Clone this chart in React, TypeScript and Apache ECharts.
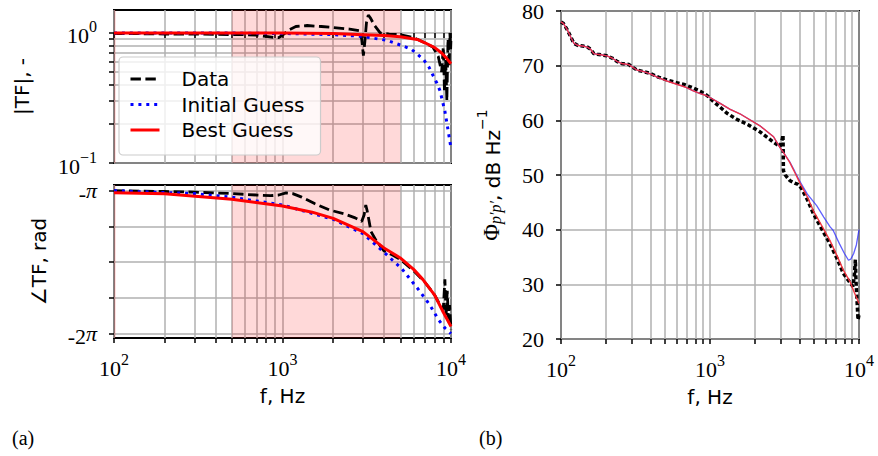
import React, { useEffect, useRef } from 'react';
import * as echarts from 'echarts';

// ---------- data ----------
// Panel (a) top: |TF|
const magDataF = [100,150,200,300,400,500,600,700,800,900,950,1000,1100,1200,1400,1700,2000,2500,2850,2950,3020,3080,3150,3230,3330,3500,3800,4300,5000,6000,7000,7800,8400,8800,9000,9150,9300,9450,9600,9750,9850,9950,10000];
const magData = [0.99,0.985,0.98,0.98,0.975,0.97,0.97,0.96,0.94,0.92,0.92,0.96,1.06,1.12,1.14,1.12,1.1,1.07,1.04,0.9,0.67,0.85,1.2,1.37,1.3,1.15,1.0,0.98,0.97,0.92,0.84,0.78,0.66,0.5,0.78,0.35,0.62,0.3,0.9,0.55,1.0,0.75,0.9];
const magInitF = [100,500,1000,2000,3000,3200,4200,5100,5800,6300,6900,7400,7800,8250,8600,9200,9600,10000];
const magInit = [1.0,0.998,0.99,0.97,0.94,0.925,0.875,0.8,0.75,0.69,0.62,0.545,0.475,0.41,0.36,0.25,0.18,0.13];
const magBestF = [100,500,1000,2000,3000,4000,5000,6300,7000,8000,8800,9400,10000];
const magBest = [1.0,1.0,1.0,0.99,0.97,0.955,0.935,0.89,0.84,0.77,0.7,0.64,0.58];

// Panel (a) bottom: phase, in units of pi
const phaseDataF = [100,200,300,500,700,850,950,1050,1150,1300,1550,1900,2300,2700,2950,3050,3120,3180,3250,3350,3600,4000,4500,5000,6000,7000,8000,8700,9000,9200,9350,9500,9650,9800,10000];
const phaseData = [-1.0,-1.005,-1.01,-1.02,-1.03,-1.035,-1.03,-1.015,-1.02,-1.045,-1.09,-1.135,-1.16,-1.19,-1.215,-1.17,-1.1,-1.14,-1.2,-1.285,-1.35,-1.42,-1.45,-1.48,-1.56,-1.64,-1.73,-1.81,-1.83,-1.62,-1.88,-1.7,-1.9,-1.8,-1.97];
const phaseInitF = [100,300,500,1000,2000,3000,4000,5100,6400,7500,8400,9200,10000];
const phaseInit = [-1.0,-1.02,-1.045,-1.1,-1.2,-1.3,-1.43,-1.545,-1.69,-1.8,-1.9,-1.96,-2.0];
const phaseBestF = [100,200,500,1000,1500,2000,3000,4000,5000,6000,6800,8000,9000,10000];
const phaseBest = [-1.014,-1.022,-1.06,-1.107,-1.15,-1.193,-1.286,-1.4,-1.47,-1.55,-1.62,-1.73,-1.85,-1.95];

// Panel (b): PSD, dB/Hz
const psdDataF = [100,104,110,116,122,130,140,150,158,166,175,185,203,220,237,255,270,285,323,360,397,450,513,598,680,773,860,951,1050,1170,1300,1510,1800,2163,2670,2950,3050,3090,3110,3200,3430,3700,3900,4100,4500,4930,5500,6390,7100,7850,8700,9100,9300,9450,9550,9700,9850,10000];
const psdData = [78.0,77.7,76.6,75.3,74.1,73.7,73.6,73.4,73.0,72.2,72.1,72.0,71.8,71.4,70.8,70.4,70.3,70.2,69.2,68.9,68.6,67.9,67.4,66.9,66.5,65.9,65.3,64.6,63.5,62.4,61.3,60.2,59.2,57.9,56.0,55.2,56.5,57.3,50.8,50.0,49.0,48.5,48.3,47.6,45.5,43.0,40.6,37.4,34.8,32.0,30.3,29.6,31.5,34.5,30.5,27.0,23.5,24.5];
const psdInitF = [100,104,110,116,122,130,140,150,158,166,175,185,203,220,237,255,270,285,323,360,397,450,513,598,680,773,860,951,1170,1366,1586,2163,2670,2950,3100,3430,3700,4000,4500,5200,5800,6400,6700,7400,8000,8500,8800,9200,9600,10000];
const psdInit = [78.0,77.7,76.6,75.3,74.1,73.7,73.6,73.4,73.0,72.2,72.1,72.0,71.8,71.4,70.8,70.4,70.3,70.2,69.2,68.9,68.5,67.8,67.2,66.6,66.1,65.4,64.9,64.5,63.1,62.0,61.2,59.0,57.0,55.0,54.2,52.4,50.7,48.9,46.5,44.4,42.3,40.5,39.9,37.4,35.6,34.4,34.6,35.6,37.2,40.0];
const psdBestF = [100,104,110,116,122,130,140,150,158,166,175,185,203,220,237,255,270,285,323,360,397,450,513,598,680,773,860,951,1170,1366,1586,2163,2670,2950,3100,3430,3700,4000,4500,4930,5500,6390,7100,7850,8700,9300,10000];
const psdBest = [78.0,77.7,76.6,75.3,74.1,73.7,73.6,73.4,73.0,72.2,72.1,72.0,71.8,71.4,70.8,70.4,70.3,70.2,69.2,68.9,68.5,67.8,67.2,66.6,66.1,65.4,64.9,64.5,63.1,62.0,61.2,59.0,57.0,55.0,54.2,52.3,50.5,48.6,46.0,43.5,41.2,38.0,35.3,32.6,30.5,28.5,26.5];

// ticks
const freqTicks = [100,200,300,400,500,600,700,800,900,1000,2000,3000,4000,5000,6000,7000,8000,9000,10000];
const freqLabelTicks = [100,1000,10000];
const magTicks = [0.1,0.2,0.3,0.4,0.5,0.6,0.7,0.8,0.9,1.0];
const magLabelTicks = [0.1,1];
const phaseTicks = [-2,-1.75,-1.5,-1.25,-1];
const phaseLabelTicks = [-2,-1];
const shadeBands = [[500,5000],[100,102.5]];
const legendNames = ['Data','Initial Guess','Best Guess'];

const SERIF = '"Liberation Serif", "DejaVu Serif", serif';
const SANS = '"DejaVu Sans", "Noto Sans", sans-serif';
const lg = Math.log10;
const toPts = (f: number[], v: number[], fy: (y: number) => number = (y) => y) =>
  f.map((x, i) => [lg(x), fy(v[i])]);

const richTick = {
  b: { fontFamily: SERIF, fontSize: 22, color: '#000', lineHeight: 28, verticalAlign: 'bottom' },
  s: { fontFamily: SERIF, fontSize: 16, color: '#000', lineHeight: 16, verticalAlign: 'top' },
  pi: { fontFamily: SERIF, fontStyle: 'italic', fontSize: 22, color: '#000', lineHeight: 28 },
};

const gridStyle = { show: true, borderColor: '#000', borderWidth: 2, backgroundColor: 'transparent' };
const tickStyle = { show: true, length: 5, lineStyle: { color: '#000', width: 1.5 } };
const splitStyle = { show: true, lineStyle: { color: '#b0b0b0', width: 1.5 } };

export default function App() {
  const ref = useRef<HTMLDivElement>(null);
  useEffect(() => {
    if (!ref.current) return;
    const chart = echarts.init(ref.current, null, { renderer: 'svg' });
    const xTickVals = freqTicks.map(lg);
    const xLabelVals = freqLabelTicks.map(lg);
    const xAxes = [0, 1, 2].map((i) => ({
      gridIndex: i,
      type: 'value',
      min: 2,
      max: 4,
      axisLine: { show: false },
      axisTick: { ...tickStyle, customValues: xTickVals },
      splitLine: splitStyle,
      axisLabel: {
        show: i > 0,
        customValues: xLabelVals,
        margin: 13,
        formatter: (v: number) => `{b|10}{s|${Math.round(v)}}`,
        rich: richTick,
      },
      name: i > 0 ? 'f, Hz' : '',
      nameLocation: 'middle',
      nameGap: 48,
      nameTextStyle: { fontFamily: SANS, fontSize: 20, color: '#000' },
    }));
    const nameStyle = { fontFamily: SANS, fontSize: 20, color: '#000' };
    const yAxes = [
      {
        gridIndex: 0, type: 'value', min: -1, max: lg(1.5),
        axisLine: { show: false },
        axisTick: { ...tickStyle, customValues: magTicks.map(lg) },
        splitLine: splitStyle,
        axisLabel: {
          customValues: magLabelTicks.map(lg), margin: 17,
          formatter: (v: number) => `{b|10}{s|${Math.round(v) === 0 ? '0' : '−1'}}`,
          rich: richTick,
        },
        name: '|TF|, -', nameLocation: 'middle', nameGap: 82, nameTextStyle: nameStyle,
      },
      {
        gridIndex: 1, type: 'value', min: -2.03, max: -0.96,
        axisLine: { show: false },
        axisTick: { ...tickStyle, customValues: phaseTicks },
        splitLine: splitStyle,
        axisLabel: {
          customValues: phaseLabelTicks, margin: 17,
          formatter: (v: number) => (Math.round(v) === -1 ? '{b|-}{pi|π}' : '{b|-2}{pi|π}'),
          rich: richTick,
        },
        name: '∠TF, rad', nameLocation: 'middle', nameGap: 65, nameTextStyle: nameStyle,
      },
      {
        gridIndex: 2, type: 'value', min: 20, max: 80, interval: 10,
        axisLine: { show: false },
        axisTick: tickStyle,
        splitLine: splitStyle,
        axisLabel: { margin: 17, fontFamily: SERIF, fontSize: 22, color: '#000' },
        name: '{phi|Φ}{sub|p′p′}{t|, dB Hz}{sup|−1}',
        nameLocation: 'middle', nameGap: 58,
        nameTextStyle: {
          color: '#000',
          rich: {
            phi: { fontFamily: SERIF, fontSize: 23, color: '#000', lineHeight: 28, verticalAlign: 'bottom' },
            sub: { fontFamily: SERIF, fontStyle: 'italic', fontSize: 16, color: '#000', lineHeight: 17, verticalAlign: 'bottom' },
            t: { fontFamily: SANS, fontSize: 20, color: '#000', lineHeight: 28, verticalAlign: 'bottom' },
            sup: { fontFamily: SANS, fontSize: 14, color: '#000', lineHeight: 17, verticalAlign: 'top' },
          },
        },
      },
    ];
    const blackL = { color: '#000', width: 2.8, type: [10.4, 4.5] };
    const blueL = { color: '#0000ff', width: 3, type: [3, 4.9] };
    const redL = { color: '#ff0000', width: 3 };
    const band = {
      silent: true,
      itemStyle: { color: 'rgba(255,0,0,0.15)' },
      data: shadeBands.map(([a, b]) => [{ xAxis: lg(a) }, { xAxis: lg(b) }]),
    };
    const line = (name: string, gi: number, data: number[][], lineStyle: any, extra: any = {}) => ({
      name, type: 'line', xAxisIndex: gi, yAxisIndex: gi, data,
      symbol: 'none', showSymbol: false, lineStyle,
      itemStyle: { color: lineStyle.color }, color: lineStyle.color, ...extra,
    });
    const series = [
      line('Data', 0, toPts(magDataF, magData, lg), blackL, { markArea: band }),
      line('Initial Guess', 0, toPts(magInitF, magInit, lg), blueL),
      line('Best Guess', 0, toPts(magBestF, magBest, lg), redL),
      line('Data', 1, toPts(phaseDataF, phaseData), blackL, { markArea: band }),
      line('Initial Guess', 1, toPts(phaseInitF, phaseInit), blueL),
      line('Best Guess', 1, toPts(phaseBestF, phaseBest), redL),
      line('Data PSD', 2, toPts(psdDataF, psdData), { color: '#000', width: 3.5, type: [4, 2.5] }),
      line('Initial PSD', 2, toPts(psdInitF, psdInit), { color: '#2a2aff', width: 1.3, opacity: 0.75 }),
      line('Best PSD', 2, toPts(psdBestF, psdBest), { color: '#f5303c', width: 1.4, opacity: 0.95 }),
    ];
    chart.setOption({
      animation: false,
      backgroundColor: '#fff',
      grid: [
        { left: 114, top: 10, width: 337, height: 153, ...gridStyle },
        { left: 114, top: 185, width: 337, height: 153, ...gridStyle },
        { left: 561, top: 10, width: 298, height: 329, ...gridStyle },
      ],
      legend: {
        data: legendNames,
        orient: 'vertical',
        left: 119,
        top: 57,
        align: 'left',
        selectedMode: false,
        itemWidth: 29,
        itemHeight: 24,
        itemGap: 1.5,
        padding: [10, 16, 13, 10],
        backgroundColor: 'rgba(255,255,255,0.8)',
        borderColor: '#cccccc',
        borderWidth: 1.2,
        borderRadius: 4,
        lineStyle: { width: 3 },
        itemStyle: { color: 'transparent', borderWidth: 0, opacity: 0 },
        textStyle: { fontFamily: SANS, fontSize: 20, color: '#000', lineHeight: 24, padding: [0, 0, 0, 17] },
      },
      xAxis: xAxes,
      yAxis: yAxes,
      series,
      graphic: [
        { type: 'text', left: 12, top: 428, style: { text: '(a)', fontFamily: SERIF, fontSize: 20, fill: '#000' } },
        { type: 'text', left: 479, top: 428, style: { text: '(b)', fontFamily: SERIF, fontSize: 20, fill: '#000' } },
      ],
    });
    return () => chart.dispose();
  }, []);
  return <div ref={ref} style={{ position: 'fixed', left: 0, top: 0, width: 878, height: 456 }} />;
}
